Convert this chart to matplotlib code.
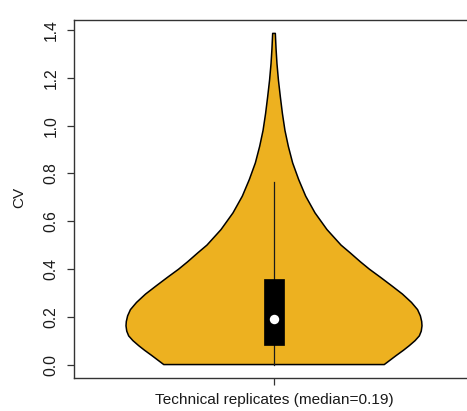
import matplotlib
matplotlib.use("Agg")
import matplotlib.pyplot as plt
import matplotlib.transforms as mtransforms
import numpy as np

plt.rcParams["font.family"] = ["Liberation Sans", "DejaVu Sans"]

# Density profile of the CV distribution (CV level, relative density)
cv_levels = [0.000, 0.037, 0.060, 0.079, 0.100, 0.120, 0.140, 0.162, 0.180,
             0.204, 0.230, 0.260, 0.295, 0.329, 0.365, 0.399, 0.430, 0.468,
             0.500, 0.565, 0.635, 0.705, 0.774, 0.844, 0.913, 0.980, 1.050,
             1.120, 1.190, 1.260, 1.320, 1.386]
rel_density = [0.745, 0.824, 0.875, 0.914, 0.953, 0.982, 0.995, 1.000, 0.998,
               0.989, 0.970, 0.929, 0.868, 0.797, 0.720, 0.645, 0.584, 0.514,
               0.453, 0.358, 0.277, 0.214, 0.167, 0.126, 0.097, 0.074, 0.057,
               0.043, 0.030, 0.020, 0.014, 0.009]

# Box-plot summary statistics
cv_min = 0.0
q1 = 0.081
median = 0.19
q3 = 0.36
whisker_high = 0.765

group_label = "Technical replicates"
fill_color = "#EDB120"

fig = plt.figure(figsize=(4.67, 4.11), dpi=100)
ax = fig.add_axes([74 / 467, 1 - 377.7 / 411, 400 / 467, (377.7 - 20.5) / 411])

pos = 1.0
max_half_width = 0.37
levels = np.array(cv_levels)
half = np.array(rel_density) * max_half_width

# Violin outline: right side going up, left side coming back down
xs = np.concatenate([pos + half, (pos - half)[::-1]])
ys = np.concatenate([levels, levels[::-1]])
ax.fill(xs, ys, facecolor=fill_color, edgecolor="black", linewidth=1.1,
        joinstyle="round", zorder=2)

# Whisker, box and median
ax.plot([pos, pos], [cv_min, whisker_high], color="#1a1a1a", linewidth=0.9,
        zorder=3)
box_hw = 0.024
ax.fill([pos - box_hw, pos + box_hw, pos + box_hw, pos - box_hw],
        [q1, q1, q3, q3], facecolor="black", edgecolor="black",
        linewidth=0.5, zorder=4)
ax.plot([pos], [median], marker="o", markersize=6.8, color="white",
        markeredgewidth=0, zorder=5)

ax.set_xlim(0.5, 1.5)
ax.set_ylim(-0.055, 1.44)

yticks = [0.0, 0.2, 0.4, 0.6, 0.8, 1.0, 1.2, 1.4]
ax.set_yticks(yticks)
ax.set_yticklabels([f"{t:.1f}" for t in yticks], rotation=90, va="center",
                   fontsize=11.3, color="#1a1a1a")
ax.set_xticks([pos])
ax.set_xticklabels([f"{group_label} (median={median:.2f})"], fontsize=11.1,
                   color="#1a1a1a")
shift = mtransforms.ScaledTranslation(-4 / 100, 0, fig.dpi_scale_trans)
for lbl in ax.get_xticklabels():
    lbl.set_transform(lbl.get_transform() + shift)
ax.tick_params(axis="y", length=5, width=0.9, pad=6, colors="#333333",
               labelcolor="#1a1a1a")
ax.tick_params(axis="x", length=5, width=0.9, pad=6, colors="#333333",
               labelcolor="#1a1a1a")

for side in ["left", "bottom", "top"]:
    ax.spines[side].set_linewidth(1.0)
    ax.spines[side].set_color("#333333")
ax.spines["right"].set_visible(False)

fig.text(19 / 467, 1 - 197 / 411, "CV", rotation=90, ha="center", va="center",
         fontsize=11, color="#1a1a1a")

fig.savefig("out.png", dpi=100)
